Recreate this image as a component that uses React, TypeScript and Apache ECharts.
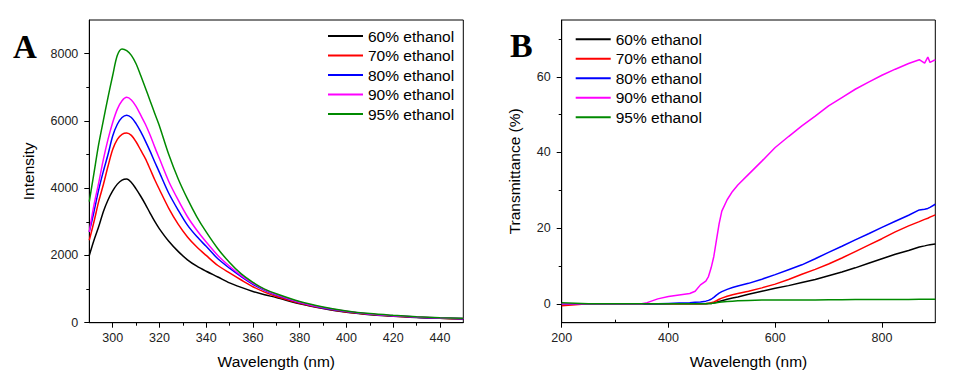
import React, { useEffect, useRef } from "react";
import * as echarts from "echarts";

const seriesNames = ["60% ethanol", "70% ethanol", "80% ethanol", "90% ethanol", "95% ethanol"];
const seriesColors = ["#000000", "#ff0000", "#0000ff", "#ff00ff", "#008a00"];

// Panel A: fluorescence intensity
const wavelengthA = [290, 292, 294, 296, 298, 300, 302, 304, 306, 308, 310, 312, 314, 316, 318, 320, 324, 328, 332, 336, 340, 345, 350, 355, 360, 365, 370, 380, 390, 400, 410, 420, 430, 440, 450];
const intensity60 = [2000, 2450, 2850, 3300, 3650, 3920, 4120, 4240, 4270, 4170, 3980, 3760, 3520, 3260, 3010, 2790, 2420, 2120, 1870, 1680, 1530, 1360, 1185, 1050, 930, 830, 750, 560, 420, 310, 240, 190, 155, 130, 110];
const intensity70 = [2450, 3000, 3600, 4100, 4650, 5150, 5450, 5600, 5640, 5570, 5380, 5130, 4880, 4570, 4250, 3960, 3400, 2930, 2550, 2250, 2000, 1700, 1480, 1270, 1070, 910, 780, 580, 430, 320, 250, 200, 160, 135, 115];
const intensity80 = [2700, 3300, 3950, 4500, 5000, 5550, 5900, 6100, 6170, 6100, 5920, 5680, 5400, 5100, 4780, 4470, 3850, 3350, 2900, 2560, 2270, 1900, 1620, 1370, 1140, 960, 820, 600, 440, 335, 255, 205, 165, 140, 120];
const intensity90 = [2700, 3500, 4150, 4850, 5450, 5950, 6350, 6600, 6700, 6620, 6430, 6170, 5900, 5580, 5220, 4880, 4200, 3650, 3150, 2750, 2400, 2000, 1680, 1400, 1170, 980, 840, 610, 450, 340, 260, 210, 170, 140, 125];
const intensity95 = [3600, 4450, 5300, 6010, 6700, 7350, 7950, 8140, 8090, 7950, 7700, 7350, 6980, 6600, 6220, 5850, 5000, 4280, 3680, 3150, 2700, 2200, 1790, 1450, 1200, 1000, 860, 630, 470, 350, 270, 220, 180, 150, 130];

// Panel B: transmittance
const wavelengthB = [200, 250, 300, 350, 360, 380, 400, 420, 440, 450, 460, 470, 475, 480, 485, 490, 495, 500, 510, 520, 530, 550, 575, 600, 625, 650, 675, 700, 725, 750, 775, 800, 825, 850, 870, 880, 886, 890, 900];
const trans60 = [0, 0, 0, 0, 0, 0, 0, 0, 0, 0, 0, 0, 0.05, 0.1, 0.2, 0.4, 0.6, 0.8, 1.2, 1.5, 1.8, 2.5, 3.3, 4.1, 4.8, 5.6, 6.4, 7.4, 8.4, 9.5, 10.7, 11.9, 13.1, 14.1, 15.0, 15.3, 15.5, 15.6, 15.8];
const trans70 = [-0.5, 0, 0, 0, 0, 0, 0, 0, 0, 0, 0, 0.05, 0.1, 0.3, 0.5, 0.8, 1.2, 1.5, 2.0, 2.4, 2.7, 3.3, 4.2, 5.2, 6.4, 7.8, 9.1, 10.5, 12.1, 13.8, 15.5, 17.2, 19.0, 20.6, 21.7, 22.3, 22.6, 22.9, 23.5];
const trans80 = [0, 0, 0, 0, 0, 0, 0.1, 0.2, 0.3, 0.4, 0.5, 0.7, 0.9, 1.2, 1.7, 2.3, 2.8, 3.2, 3.8, 4.3, 4.7, 5.4, 6.5, 7.7, 9.0, 10.3, 11.9, 13.6, 15.2, 16.9, 18.5, 20.2, 21.8, 23.4, 24.8, 25.0, 25.2, 25.5, 26.3];
const trans90 = [0, 0, 0, 0, 0.3, 1.3, 1.9, 2.3, 2.7, 3.3, 5.0, 6.0, 7.2, 9.5, 12.5, 16.9, 21.2, 24.5, 27.5, 29.7, 31.4, 34.2, 37.7, 41.3, 44.2, 47.0, 49.6, 52.3, 54.5, 56.7, 58.6, 60.4, 62.0, 63.5, 64.5, 63.6, 65.2, 63.8, 64.5];
const trans95 = [0.3, 0, 0, 0, 0, 0, 0, 0, 0, 0, 0, 0, 0.05, 0.1, 0.2, 0.3, 0.4, 0.5, 0.6, 0.7, 0.8, 0.9, 1.0, 1.0, 1.0, 1.0, 1.0, 1.05, 1.05, 1.1, 1.1, 1.1, 1.15, 1.15, 1.2, 1.2, 1.2, 1.2, 1.2];

// Axis ticks and labels
const ticksA_xMajor = [300, 320, 340, 360, 380, 400, 420, 440];
const ticksA_xMinor = [310, 330, 350, 370, 390, 410, 430];
const ticksA_yMajor = [0, 2000, 4000, 6000, 8000];
const ticksA_yMinor = [1000, 3000, 5000, 7000];
const ticksB_xMajor = [200, 400, 600, 800];
const ticksB_xMinor = [300, 500, 700];
const ticksB_yMajor = [0, 20, 40, 60];
const ticksB_yMinor = [10, 30, 50, 70];

const labelFont = { fontFamily: "Liberation Sans", fontSize: 12.5, color: "#222" };
const nameFont = { fontFamily: "Liberation Sans", fontSize: 15.5, color: "#000" };

function pairs(xs: number[], ys: number[]) {
  return xs.map((x, i) => [x, ys[i]]);
}

export default function App() {
  const ref = useRef<HTMLDivElement>(null);
  useEffect(() => {
    if (!ref.current) return;
    const chart = echarts.init(ref.current, undefined, { renderer: "svg" });
    const line = { show: true, onZero: false, lineStyle: { color: "#000", width: 1 } };
    const fmt = (v: number) => String(v);
    const mainX = (grid: number, min: number, max: number, major: number[], name: string) => ({
      type: "value", gridIndex: grid, min, max, position: "bottom",
      axisLine: line, splitLine: { show: false },
      axisTick: { show: true, customValues: major, length: 5, lineStyle: { color: "#000" } },
      axisLabel: { show: true, customValues: major, margin: 9, formatter: fmt, ...labelFont },
      name, nameLocation: "middle", nameGap: 31, nameTextStyle: nameFont,
    });
    const mainY = (grid: number, min: number, max: number, major: number[], name: string, gap: number) => ({
      type: "value", gridIndex: grid, min, max, position: "left",
      axisLine: line, splitLine: { show: false },
      axisTick: { show: true, customValues: major, length: 5, lineStyle: { color: "#000" } },
      axisLabel: { show: true, customValues: major, margin: 11, formatter: fmt, ...labelFont },
      name, nameLocation: "middle", nameGap: gap, nameTextStyle: nameFont,
    });
    const minorX = (grid: number, min: number, max: number, minor: number[], inside: boolean) => ({
      type: "value", gridIndex: grid, min, max, position: "bottom",
      axisLine: { show: false, onZero: false }, splitLine: { show: false },
      axisTick: { show: true, customValues: minor, length: 3, inside, lineStyle: { color: "#000" } },
      axisLabel: { show: false },
    });
    const minorY = (grid: number, min: number, max: number, minor: number[]) => ({
      type: "value", gridIndex: grid, min, max, position: "left",
      axisLine: { show: false, onZero: false }, splitLine: { show: false },
      axisTick: { show: true, customValues: minor, length: 3, lineStyle: { color: "#000" } },
      axisLabel: { show: false },
    });

    const dataA = [intensity60, intensity70, intensity80, intensity90, intensity95];
    const dataB = [trans60, trans70, trans80, trans90, trans95];
    const series: any[] = [];
    dataA.forEach((d, i) =>
      series.push({
        type: "line", name: seriesNames[i], xAxisIndex: 0, yAxisIndex: 0,
        data: pairs(wavelengthA, d), symbol: "none", smooth: 0.3,
        lineStyle: { color: seriesColors[i], width: 1.5 }, itemStyle: { color: seriesColors[i] },
      })
    );
    dataB.forEach((d, i) =>
      series.push({
        type: "line", name: seriesNames[i], xAxisIndex: 1, yAxisIndex: 1,
        data: pairs(wavelengthB, d), symbol: "none",
        lineStyle: { color: seriesColors[i], width: 1.5 }, itemStyle: { color: seriesColors[i] },
      })
    );

    const legendBase = {
      orient: "vertical", icon: "rect", itemWidth: 35, itemHeight: 2, itemGap: 3.5, selectedMode: false,
      padding: 0,
      data: seriesNames,
      textStyle: { fontFamily: "Liberation Sans", fontSize: 15.5, color: "#000", lineHeight: 16 },
    };

    chart.setOption({
      animation: false,
      backgroundColor: "#fff",
      grid: [
        { left: 89.3, right: 491.7, top: 20, bottom: 56.3, show: true, borderColor: "#000", borderWidth: 1, containLabel: false },
        { left: 561.7, right: 19.7, top: 20, bottom: 56.3, show: true, borderColor: "#000", borderWidth: 1, containLabel: false },
      ],
      xAxis: [
        mainX(0, 290, 450, ticksA_xMajor, "Wavelength (nm)"),
        mainX(1, 200, 900, ticksB_xMajor, "Wavelength (nm)"),
        minorX(0, 290, 450, ticksA_xMinor, false),
        minorX(1, 200, 900, ticksB_xMinor, true),
      ],
      yAxis: [
        mainY(0, 0, 9000, ticksA_yMajor, "Intensity", 53),
        mainY(1, -5, 75, ticksB_yMajor, "Transmittance (%)", 39),
        minorY(0, 0, 9000, ticksA_yMinor),
        minorY(1, -5, 75, ticksB_yMinor),
      ],
      legend: [
        { ...legendBase, left: 328, top: 28 },
        { ...legendBase, left: 575.7, top: 31.3 },
      ],
      graphic: [
        { type: "text", left: 13, top: 30, style: { text: "A", font: "bold 33px 'Liberation Serif'", fill: "#000" } },
        { type: "text", left: 510, top: 28, style: { text: "B", font: "bold 34px 'Liberation Serif'", fill: "#000" } },
      ],
      series,
    });
    return () => chart.dispose();
  }, []);
  return <div ref={ref} style={{ position: "fixed", left: 0, top: 0, width: 955, height: 379, background: "#fff" }} />;
}
